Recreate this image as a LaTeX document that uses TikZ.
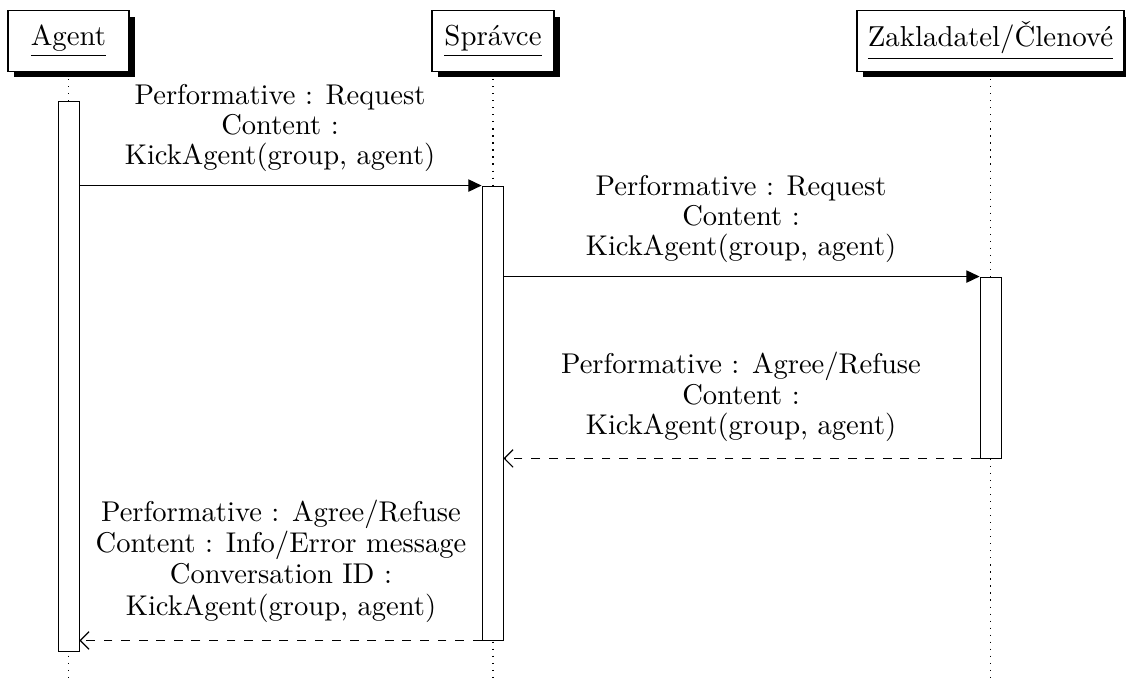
\documentclass[tikz,border=0pt]{standalone}
\usetikzlibrary{arrows.meta}
\begin{document}
\begin{tikzpicture}[x=0.3413pt,y=-0.3413pt,
  part/.style={draw,fill=white,line width=0.4pt,inner sep=0pt,minimum height=61*0.3413pt,font=\fontsize{9.85}{12}\selectfont},
  act/.style={draw,fill=white,line width=0.3pt,minimum width=21*0.3413pt,inner sep=0pt},
  life/.style={dotted,line width=0.4pt},
  call/.style={line width=0.4pt,-{Triangle[length=4.5pt,width=4.2pt]}},
  reply/.style={line width=0.4pt,dashed,-{Straight Barb[length=3pt,width=6pt]}},
  lab/.style={align=center,inner sep=0pt,font=\fontsize{9.75}{10.4}\selectfont}]
\useasboundingbox (0,0) rectangle (1126,682);
% shadows
\fill (14,17) rectangle (135,77);
\fill (438,17) rectangle (560,77);
\fill (863,17) rectangle (1130,77);
% participants
\node[part,minimum width=121*0.3413pt] (agent) at (68.5,41) {\underline{Agent}};
\node[part,minimum width=122*0.3413pt] (spr) at (493,41) {\underline{Správce}};
\node[part,minimum width=267*0.3413pt] (zak) at (990.5,41) {\underline{Zakladatel/Členové}};
% lifeline ends
\coordinate (agentEnd) at (68.5,682);
\coordinate (sprEnd) at (493,682);
\coordinate (zakEnd) at (990.5,682);
\draw[life] (agent.south) -- (agentEnd);
\draw[life] (spr.south) -- (sprEnd);
\draw[life] (zak.south) -- (zakEnd);
% activations
\node[act,minimum height=550*0.3413pt] (aA) at (68.5,376) {};
\node[act,minimum height=454*0.3413pt] (aS) at (492.5,413) {};
\node[act,minimum height=181*0.3413pt] (aZ) at (990.5,367.5) {};
% messages
\draw[call] (aA.east |- aS.north west) -- (aS.north west);
\draw[call] (aS.east |- aZ.north west) -- (aZ.north west);
\draw[reply] (aZ.south west) -- (aS.east |- aZ.south west);
\draw[reply] (aS.south west) -- (aA.east |- aS.south west);
% labels
\node[lab] (l1) at (280,128) {Performative : Request\\Content :\\KickAgent(group, agent)};
\node[lab] (l2) at (741,219) {Performative : Request\\Content :\\KickAgent(group, agent)};
\node[lab] (l3) at (741,397) {Performative : Agree/Refuse\\Content :\\KickAgent(group, agent)};
\node[lab,font=\fontsize{9.75}{10.7}\selectfont] (l4) at (281,561) {Performative : Agree/Refuse\\Content : Info/Error message\\Conversation ID :\\KickAgent(group, agent)};
\end{tikzpicture}
\end{document}
